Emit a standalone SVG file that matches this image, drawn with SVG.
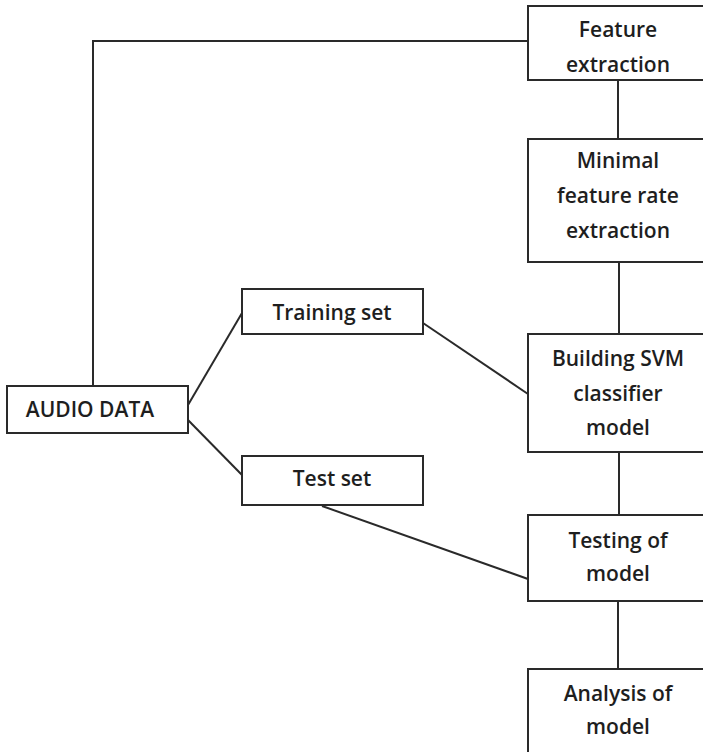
<svg xmlns="http://www.w3.org/2000/svg" width="703" height="752" viewBox="0 0 703 752">
<style>
.box{fill:#fff;stroke:#2a2a2a;stroke-width:2}
.ln{fill:none;stroke:#2a2a2a;stroke-width:2}
text{font-family:"Open Sans","Liberation Sans",sans-serif;font-weight:600;font-size:21px;fill:#1e1e1e;text-anchor:middle}
</style>
<rect width="703" height="752" fill="#fff"/>
<g id="connectors">
<polyline class="ln" points="528,41 93,41 93,386"/>
<line class="ln" x1="618" y1="80" x2="618" y2="139"/>
<line class="ln" x1="619" y1="262" x2="619" y2="334"/>
<line class="ln" x1="619" y1="452" x2="619" y2="515"/>
<line class="ln" x1="618" y1="601" x2="618" y2="669"/>
<line class="ln" x1="188" y1="405" x2="242" y2="313"/>
<line class="ln" x1="188" y1="420" x2="242" y2="475"/>
<line class="ln" x1="423" y1="323" x2="528" y2="394"/>
<line class="ln" x1="322" y1="506" x2="528" y2="579"/>
</g>
<g id="feature-extraction">
<rect class="box" x="528" y="6" width="182" height="74"/>
<text x="618" y="37">Feature</text>
<text x="618" y="72">extraction</text>
</g>
<g id="minimal-feature-rate">
<rect class="box" x="528" y="139" width="182" height="123"/>
<text x="618" y="168">Minimal</text>
<text x="618" y="203">feature rate</text>
<text x="618" y="238">extraction</text>
</g>
<g id="building-svm">
<rect class="box" x="528" y="334" width="182" height="118"/>
<text x="618" y="366">Building SVM</text>
<text x="618" y="401">classifier</text>
<text x="618" y="435">model</text>
</g>
<g id="testing-of-model">
<rect class="box" x="528" y="515" width="182" height="86"/>
<text x="618" y="548">Testing of</text>
<text x="618" y="581">model</text>
</g>
<g id="analysis-of-model">
<rect class="box" x="528" y="669" width="182" height="90"/>
<text x="618" y="701">Analysis of</text>
<text x="618" y="734">model</text>
</g>
<g id="training-set">
<rect class="box" x="242" y="289" width="181" height="45"/>
<text x="332" y="320">Training set</text>
</g>
<g id="test-set">
<rect class="box" x="242" y="456" width="181" height="49"/>
<text x="332" y="486">Test set</text>
</g>
<g id="audio-data">
<rect class="box" x="7" y="386" width="181" height="47"/>
<text x="90" y="417">AUDIO DATA</text>
</g>
</svg>
